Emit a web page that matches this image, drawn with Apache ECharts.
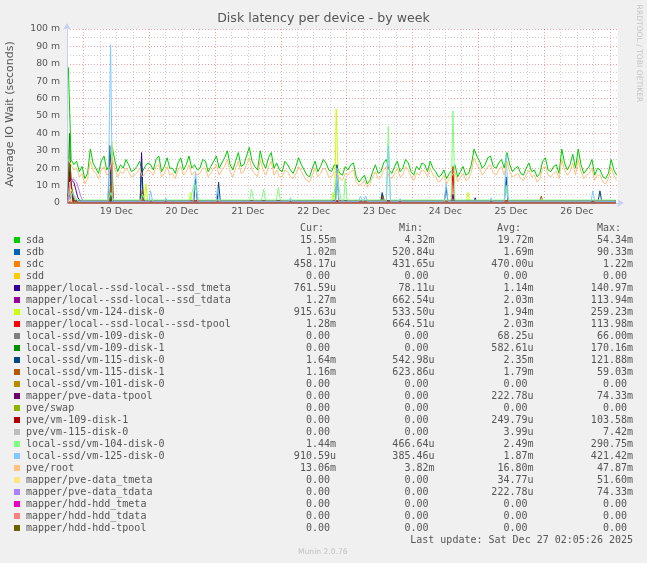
<!DOCTYPE html>
<html>
<head>
<meta charset="utf-8">
<script src="https://cdn.jsdelivr.net/npm/echarts@6.0.0/dist/echarts.min.js"></script>
<style>
  html, body { margin: 0; padding: 0; background: #f0f0f0; }
  #main { width: 647px; height: 563px; }
</style>
</head>
<body>
<div id="main"></div>
<script>
// time axis is in hours counted from 18 Dec 00:00, values in milliseconds
const dayLabels = ['19 Dec', '20 Dec', '21 Dec', '22 Dec', '23 Dec', '24 Dec', '25 Dec', '26 Dec']
const firstHour = 18.5
const hourStep = 1

const sdaValues = [78, 25, 22, 24, 18, 21, 14, 17, 31, 23, 20, 17, 24, 27, 19, 22, 32, 24, 18, 22,
  20, 25, 22, 18, 19, 21, 24, 18, 21, 23, 22, 19, 25, 27, 18, 21, 26, 20, 20, 17,
  23, 26, 19, 22, 27, 20, 22, 19, 20, 25, 24, 18, 21, 24, 27, 20, 23, 26, 30, 22,
  19, 24, 29, 21, 22, 27, 32, 24, 21, 19, 30, 23, 20, 26, 29, 20, 23, 19, 18, 24,
  22, 19, 17, 21, 26, 22, 19, 16, 15, 20, 24, 18, 21, 25, 23, 19, 18, 22, 21, 17,
  16, 21, 19, 22, 23, 15, 12, 14, 16, 11, 13, 18, 22, 17, 18, 23, 25, 19, 17, 21,
  24, 18, 20, 25, 23, 18, 16, 21, 19, 23, 22, 18, 24, 20, 18, 15, 16, 19, 14, 17,
  19, 22, 15, 18, 21, 16, 17, 22, 31, 27, 24, 20, 22, 26, 27, 21, 20, 23, 25, 20,
  29, 22, 18, 20, 21, 17, 16, 20, 23, 18, 19, 15, 17, 24, 26, 19, 18, 21, 22, 17,
  31, 23, 19, 22, 28, 20, 31, 22, 17, 19, 21, 25, 16, 20, 19, 15, 14, 17, 25, 19, 16]

const rootValues = [25, 22, 19, 20, 15, 17, 11, 14, 24, 19, 17, 14, 19, 21, 16, 18, 26, 19, 15, 18,
  17, 20, 18, 15, 16, 17, 20, 15, 17, 19, 18, 16, 21, 22, 15, 17, 21, 16, 17, 14,
  19, 21, 16, 18, 22, 16, 18, 16, 17, 20, 20, 15, 17, 20, 22, 16, 19, 21, 25, 18,
  15, 20, 24, 17, 18, 22, 26, 19, 17, 15, 25, 19, 16, 21, 24, 16, 19, 15, 15, 19,
  18, 15, 14, 17, 21, 18, 15, 13, 12, 16, 20, 15, 17, 20, 19, 15, 15, 18, 17, 14,
  13, 17, 16, 18, 19, 12, 10, 11, 13, 9, 11, 15, 18, 14, 15, 19, 21, 15, 14, 17,
  20, 15, 16, 21, 19, 15, 13, 17, 16, 19, 18, 15, 20, 16, 15, 12, 13, 16, 11, 14,
  16, 18, 12, 15, 17, 13, 14, 18, 26, 22, 20, 16, 18, 21, 22, 17, 16, 19, 21, 16,
  24, 18, 15, 16, 17, 14, 13, 16, 19, 15, 16, 12, 14, 20, 21, 16, 15, 17, 18, 14,
  25, 19, 16, 18, 23, 16, 25, 18, 14, 16, 17, 20, 13, 16, 16, 12, 11, 14, 20, 16, 13]

// [hour, ms] points for the mostly-flat devices
const sdbPoints = [[18.3, 2], [19.3, 6], [20.5, 1], [33.6, 1], [34.0, 20], [34.5, 1], [45, 1], [45.5, 8], [46, 1], [218.2, 1]]
const sdcPoints = [[18.3, 0.5], [19.5, 1.2], [21, 0.45], [218.2, 0.46]]
const sddPoints = [[18.3, 0], [218.2, 0]]
const ssdTmetaPoints = [[18.3, 1], [19.2, 4], [20, 0.6], [34, 0.6], [34.6, 4], [35.2, 0.6], [44.7, 0.6], [45.2, 29], [45.8, 0.6],
  [132.5, 0.6], [133, 5], [133.5, 0.6], [158.3, 0.6], [158.8, 5], [159.3, 0.6], [166.4, 0.6], [166.9, 3], [167.4, 0.6], [218.2, 0.6]]
const ssdTdataPoints = [[18.3, 2], [19.1, 8], [20, 1.3], [34.3, 1.3], [34.6, 6], [35, 1.3], [218.2, 1.3]]
const vm124Points = [[18.3, 2], [19.3, 10], [20.5, 1.2], [33.8, 1.2], [34.4, 35], [35, 1.2], [46.2, 1.2], [46.8, 11], [47.4, 1.2],
  [62.5, 1.2], [63.1, 6], [63.7, 1.2], [114.5, 1.2], [115.1, 6], [115.7, 1.2], [115.9, 1.2], [116.2, 54], [116.8, 54], [117.2, 1.2],
  [163.7, 1.2], [164.3, 6], [164.9, 1.2], [218.2, 1.2]]
const ssdTpoolPoints = [[18.3, 2], [19.1, 24], [20, 1.3], [33.8, 1.3], [34.3, 25], [34.9, 1.3], [158.3, 1.3], [158.8, 21], [159.3, 1.3], [218.2, 1.3]]
const vm109d0Points = [[18.3, 0], [19.2, 6], [20, 0], [218.2, 0]]
const vm109d1Points = [[18.3, 0], [18.9, 40], [19.6, 0], [33.8, 0], [34.2, 10], [34.7, 0], [218.2, 0]]
const vm115d0Points = [[18.3, 2], [19.2, 12], [20.5, 1.4], [33, 1.4], [33.6, 33], [34.2, 1.4], [44.7, 1.4], [45.2, 20], [45.8, 1.4],
  [64.3, 1.4], [64.9, 14], [65.5, 1.4], [72.8, 1.4], [73.3, 12], [73.9, 1.4], [116, 1.4], [116.5, 22], [117.1, 1.4],
  [132.5, 1.4], [133, 6], [133.6, 1.4], [155.7, 1.4], [156.3, 9], [156.9, 1.4], [177.6, 1.4], [178.2, 15], [178.8, 1.4],
  [211.8, 1.4], [212.4, 7], [213, 1.4], [218.2, 1.4]]
const vm115d1Points = [[18.3, 2], [19.5, 10], [21, 1.2], [33.5, 1.2], [34, 10], [34.5, 1.2], [45, 1.2], [45.5, 8], [46, 1.2],
  [133, 1.2], [133.3, 4], [133.8, 1.2], [190.5, 1.2], [191, 4], [191.5, 1.2], [218.2, 1.2]]
const vm101Points = [[18.3, 0], [218.2, 0]]
const pveTpoolPoints = [[18.3, 0], [19, 14], [20.5, 12], [22, 3], [23.5, 0], [218.2, 0]]
const swapPoints = [[18.3, 0], [218.2, 0]]
const pveVm109Points = [[18.3, 0], [19, 18], [20, 0], [218.2, 0]]
const pveVm115Points = [[18.3, 0], [19, 3], [20, 0], [218.2, 0]]
const vm104Points = [[18.3, 3], [19.5, 8], [21, 2], [23, 1.7], [33, 1.7], [34, 6], [35, 1.7], [45, 1.7], [45.5, 5], [46.5, 1.7],
  [63, 1.7], [64.5, 12], [66, 1.7], [84.7, 1.7], [85.3, 8], [86, 1.7], [89, 1.7], [89.7, 8], [90.4, 1.7],
  [94.4, 1.7], [95.1, 9], [95.8, 1.7], [115, 1.7], [116.5, 15], [118, 1.7], [119, 1.7], [119.5, 14], [120.2, 1.7],
  [134.5, 1.7], [135.2, 44], [136, 1.7], [158.1, 1.7], [158.8, 53], [159.5, 1.7], [177.5, 1.7], [178.2, 10], [179, 1.7], [218.2, 1.7]]
const vm125Points = [[18.3, 1], [20, 6], [22, 1], [33, 1], [33.9, 91], [34.6, 1], [48, 1], [48.5, 7], [49.2, 1],
  [53.5, 1], [54, 3], [54.6, 1], [64, 1], [64.9, 18], [65.7, 1], [72.4, 1], [72.9, 9], [73.5, 1],
  [99, 1], [99.5, 3], [100, 1], [116, 1], [116.5, 20], [117.2, 1], [124.5, 1], [125, 4], [126, 1], [127, 4], [127.6, 1],
  [134.5, 1], [135.2, 33], [136, 1], [139, 1], [139.5, 2.5], [140, 1], [155.7, 1], [156.3, 12], [157, 1],
  [172.2, 1], [172.7, 3], [173.2, 1], [177.5, 1], [178.2, 28], [179, 1], [209.2, 1], [209.8, 7], [210.5, 1], [218.2, 1]]
const pveTmetaPoints = [[18.3, 0], [19, 12], [19.8, 0], [218.2, 0]]
const pveTdataPoints = [[18.3, 0], [19.2, 12], [20.2, 14], [21.5, 12], [23, 4], [24, 0.5], [218.2, 0.3]]
const hddTmetaPoints = [[18.3, 0], [218.2, 0]]
const hddTdataPoints = [[18.3, 0], [218.2, 0]]
const hddTpoolPoints = [[18.3, 0], [218.2, 0]]

// legend table
const names = ['sda', 'sdb', 'sdc', 'sdd', 'mapper/local--ssd-local--ssd_tmeta', 'mapper/local--ssd-local--ssd_tdata',
  'local-ssd/vm-124-disk-0', 'mapper/local--ssd-local--ssd-tpool', 'local-ssd/vm-109-disk-0', 'local-ssd/vm-109-disk-1',
  'local-ssd/vm-115-disk-0', 'local-ssd/vm-115-disk-1', 'local-ssd/vm-101-disk-0', 'mapper/pve-data-tpool', 'pve/swap',
  'pve/vm-109-disk-1', 'pve/vm-115-disk-0', 'local-ssd/vm-104-disk-0', 'local-ssd/vm-125-disk-0', 'pve/root',
  'mapper/pve-data_tmeta', 'mapper/pve-data_tdata', 'mapper/hdd-hdd_tmeta', 'mapper/hdd-hdd_tdata', 'mapper/hdd-hdd-tpool']
const colors = ['#00CC00', '#0066B3', '#FF8000', '#FFCC00', '#330099', '#990099', '#CCFF00', '#FF0000', '#808080', '#008F00',
  '#00487D', '#B35A00', '#B38F00', '#6B006B', '#8FB300', '#B30000', '#BEBEBE', '#80FF80', '#80C9FF', '#FFC080',
  '#FFE680', '#AA80FF', '#EE00CC', '#FF8080', '#666600']
const curText = ['15.55m', '1.02m', '458.17u', '0.00 ', '761.59u', '1.27m', '915.63u', '1.28m', '0.00 ', '0.00 ',
  '1.64m', '1.16m', '0.00 ', '0.00 ', '0.00 ', '0.00 ', '0.00 ', '1.44m', '910.59u', '13.06m',
  '0.00 ', '0.00 ', '0.00 ', '0.00 ', '0.00 ']
const minText = ['4.32m', '520.84u', '431.65u', '0.00 ', '78.11u', '662.54u', '533.50u', '664.51u', '0.00 ', '0.00 ',
  '542.98u', '623.86u', '0.00 ', '0.00 ', '0.00 ', '0.00 ', '0.00 ', '466.64u', '385.46u', '3.82m',
  '0.00 ', '0.00 ', '0.00 ', '0.00 ', '0.00 ']
const avgText = ['19.72m', '1.69m', '470.00u', '0.00 ', '1.14m', '2.03m', '1.94m', '2.03m', '68.25u', '582.61u',
  '2.35m', '1.79m', '0.00 ', '222.78u', '0.00 ', '249.79u', '3.99u', '2.49m', '1.87m', '16.80m',
  '34.77u', '222.78u', '0.00 ', '0.00 ', '0.00 ']
const maxText = ['54.34m', '90.33m', '1.22m', '0.00 ', '140.97m', '113.94m', '259.23m', '113.98m', '66.00m', '170.16m',
  '121.88m', '59.03m', '0.00 ', '74.33m', '0.00 ', '103.58m', '7.42m', '290.75m', '421.42m', '47.87m',
  '51.60m', '74.33m', '0.00 ', '0.00 ', '0.00 ']

const sdaPoints = sdaValues.map((v, k) => [firstHour + k * hourStep, v])
const rootPoints = rootValues.map((v, k) => [firstHour + k * hourStep, v])
const seriesPoints = [sdaPoints, sdbPoints, sdcPoints, sddPoints, ssdTmetaPoints, ssdTdataPoints, vm124Points,
  ssdTpoolPoints, vm109d0Points, vm109d1Points, vm115d0Points, vm115d1Points, vm101Points, pveTpoolPoints,
  swapPoints, pveVm109Points, pveVm115Points, vm104Points, vm125Points, rootPoints, pveTmetaPoints,
  pveTdataPoints, hddTmetaPoints, hddTdataPoints, hddTpoolPoints]

const textColor = '#555'
const mono = '10px "DejaVu Sans Mono"'
const majorGrid = 'rgba(230,0,0,0.38)'
const minorGrid = '#cfcfcf'
const axisColor = '#c8cff5'

let graphics = [
  { type: 'text', x: 323.5, y: 19, style: { text: 'Disk latency per device - by week', font: '12.6px "DejaVu Sans"', fill: textColor, align: 'center', verticalAlign: 'middle' } },
  { type: 'text', x: 10.5, y: 114, rotation: Math.PI / 2, style: { text: 'Average IO Wait (seconds)', font: '11px "DejaVu Sans"', fill: textColor, align: 'center', verticalAlign: 'middle' } },
  { type: 'text', x: 638.5, y: 53.5, rotation: -Math.PI / 2, style: { text: 'RRDTOOL / TOBI OETIKER', font: '7.6px "DejaVu Sans"', fill: '#c4c4c4', align: 'center', verticalAlign: 'middle' } },
  { type: 'text', x: 300, y: 228.5, style: { text: 'Cur:', font: mono, fill: textColor, verticalAlign: 'middle' } },
  { type: 'text', x: 399, y: 228.5, style: { text: 'Min:', font: mono, fill: textColor, verticalAlign: 'middle' } },
  { type: 'text', x: 497, y: 228.5, style: { text: 'Avg:', font: mono, fill: textColor, verticalAlign: 'middle' } },
  { type: 'text', x: 597, y: 228.5, style: { text: 'Max:', font: mono, fill: textColor, verticalAlign: 'middle' } },
  { type: 'text', x: 633, y: 540, style: { text: 'Last update: Sat Dec 27 02:05:26 2025', font: mono, fill: textColor, align: 'right', verticalAlign: 'middle' } },
  { type: 'text', x: 298, y: 552.5, style: { text: 'Munin 2.0.76', font: '7.6px "DejaVu Sans"', fill: '#c0c0c0', verticalAlign: 'middle' } },
]
names.forEach((name, i) => {
  const y = 240 + i * 12
  graphics.push({ type: 'rect', shape: { x: 14, y: y - 3, width: 6, height: 6 }, style: { fill: colors[i] } })
  graphics.push({ type: 'text', x: 26, y: y, style: { text: name, font: mono, fill: textColor, verticalAlign: 'middle' } })
  ;[[curText, 336], [minText, 434.5], [avgText, 533.5], [maxText, 633]].forEach(([col, x]) => {
    graphics.push({ type: 'text', x: x, y: y, style: { text: col[i], font: mono, fill: textColor, align: 'right', verticalAlign: 'middle' } })
  })
})

const myChart = echarts.init(document.getElementById('main'), null, { renderer: 'canvas' })
myChart.setOption({
  backgroundColor: '#f0f0f0',
  animation: false,
  grid: { left: 67, right: 29, top: 29, bottom: 360, show: true, backgroundColor: '#ffffff', borderWidth: 0 },
  xAxis: {
    type: 'value', min: 18, max: 219, interval: 6,
    axisLine: { lineStyle: { color: axisColor, width: 1 }, symbol: ['none', 'arrow'], symbolSize: [6, 7], symbolOffset: [0, 6] },
    axisTick: { show: false },
    axisLabel: {
      margin: 4, color: textColor, fontSize: 9.4, fontFamily: 'DejaVu Sans', showMinLabel: true, showMaxLabel: true,
      formatter: v => (v % 24 === 12 ? dayLabels[(v - 36) / 24] || '' : '')
    },
    splitLine: { show: true, showMaxLine: false, lineStyle: { color: [minorGrid, majorGrid, minorGrid, minorGrid], type: [1, 2], width: 1 } }
  },
  yAxis: {
    type: 'value', min: 0, max: 100, interval: 5,
    axisLine: { show: true, lineStyle: { color: axisColor, width: 1 }, symbol: ['none', 'arrow'], symbolSize: [6, 7], symbolOffset: [0, 6] },
    axisTick: { show: false },
    axisLabel: {
      margin: 7, color: textColor, fontSize: 9.3, fontFamily: 'DejaVu Sans',
      formatter: v => (v % 10 !== 0 ? '' : v === 0 ? '0' : v + ' m')
    },
    splitLine: { show: true, lineStyle: { color: [majorGrid, minorGrid], type: [1, 2], width: 1 } }
  },
  series: names.map((name, i) => ({
    name: name,
    type: 'line',
    data: seriesPoints[i],
    showSymbol: false,
    silent: true,
    lineStyle: { color: colors[i], width: 1 },
    itemStyle: { color: colors[i] }
  })),
  graphic: graphics
})
</script>
</body>
</html>
